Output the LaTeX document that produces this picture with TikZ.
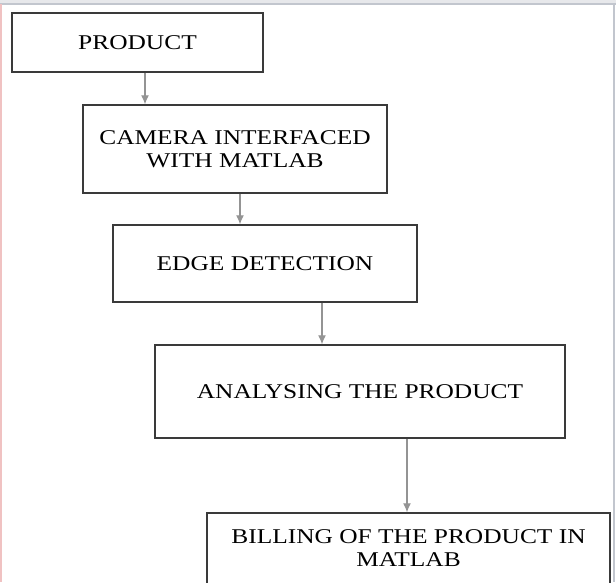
\documentclass[tikz,border=0pt]{standalone}
\usepackage{fontspec}
\setmainfont{Liberation Serif}
\usepackage{graphicx}
\usetikzlibrary{arrows.meta}
\definecolor{boxline}{HTML}{3A3A3A}
\definecolor{flowline}{HTML}{949494}
\definecolor{frame}{HTML}{C2C6CE}
\definecolor{leftedge}{HTML}{F0C2C2}
\newcommand{\wide}[1]{\scalebox{1.21}[1]{#1}}

\begin{document}
\begin{tikzpicture}[x=1pt, y=-1pt, >={Latex[length=9pt,width=8pt]},
  stepbox/.style={draw=boxline, line width=1.4pt, inner sep=0pt, align=center,
    font=\fontsize{21}{23}\selectfont, text=black},
  flow/.style={->, draw=flowline, line width=1.2pt}]

\clip (0,0) rectangle (616,582);
\fill[white] (0,0) rectangle (616,582);

% ---------- page frame
\fill[frame!40] (0,0) rectangle (616,3);
\draw[frame, line width=1.6pt] (0,3.8) -- (616,3.8);
\draw[leftedge, line width=1.5pt] (0.75,4) -- (0.75,582);
\draw[frame, line width=1.5pt] (614,4) -- (614,582);

% ---------- steps
\node[stepbox, minimum width=251pt, minimum height=59pt] (product) at (137.5,42.5)
  {\wide{PRODUCT}};
\node[stepbox, minimum width=304pt, minimum height=88pt] (camera) at (235,149)
  {\wide{CAMERA INTERFACED}\\\wide{WITH MATLAB}};
\node[stepbox, minimum width=304pt, minimum height=77pt] (edge) at (265,263.5)
  {\wide{EDGE DETECTION}};
\node[stepbox, minimum width=410pt, minimum height=93pt] (analyse) at (360,391.5)
  {\wide{ANALYSING THE PRODUCT}};
\node[stepbox, minimum width=403pt, minimum height=71pt] (billing) at (408.5,548.5)
  {\wide{BILLING OF THE PRODUCT IN}\\\wide{MATLAB}};

% ---------- flow
\draw[flow] ([xshift=7.5pt]product.south) -- ([xshift=-90pt]camera.north);
\draw[flow] ([xshift=5pt]camera.south) -- ([xshift=-25pt]edge.north);
\draw[flow] ([xshift=57pt]edge.south) -- ([xshift=-38pt]analyse.north);
\draw[flow] ([xshift=47pt]analyse.south) -- ([xshift=-1.5pt]billing.north);

\end{tikzpicture}
\end{document}
